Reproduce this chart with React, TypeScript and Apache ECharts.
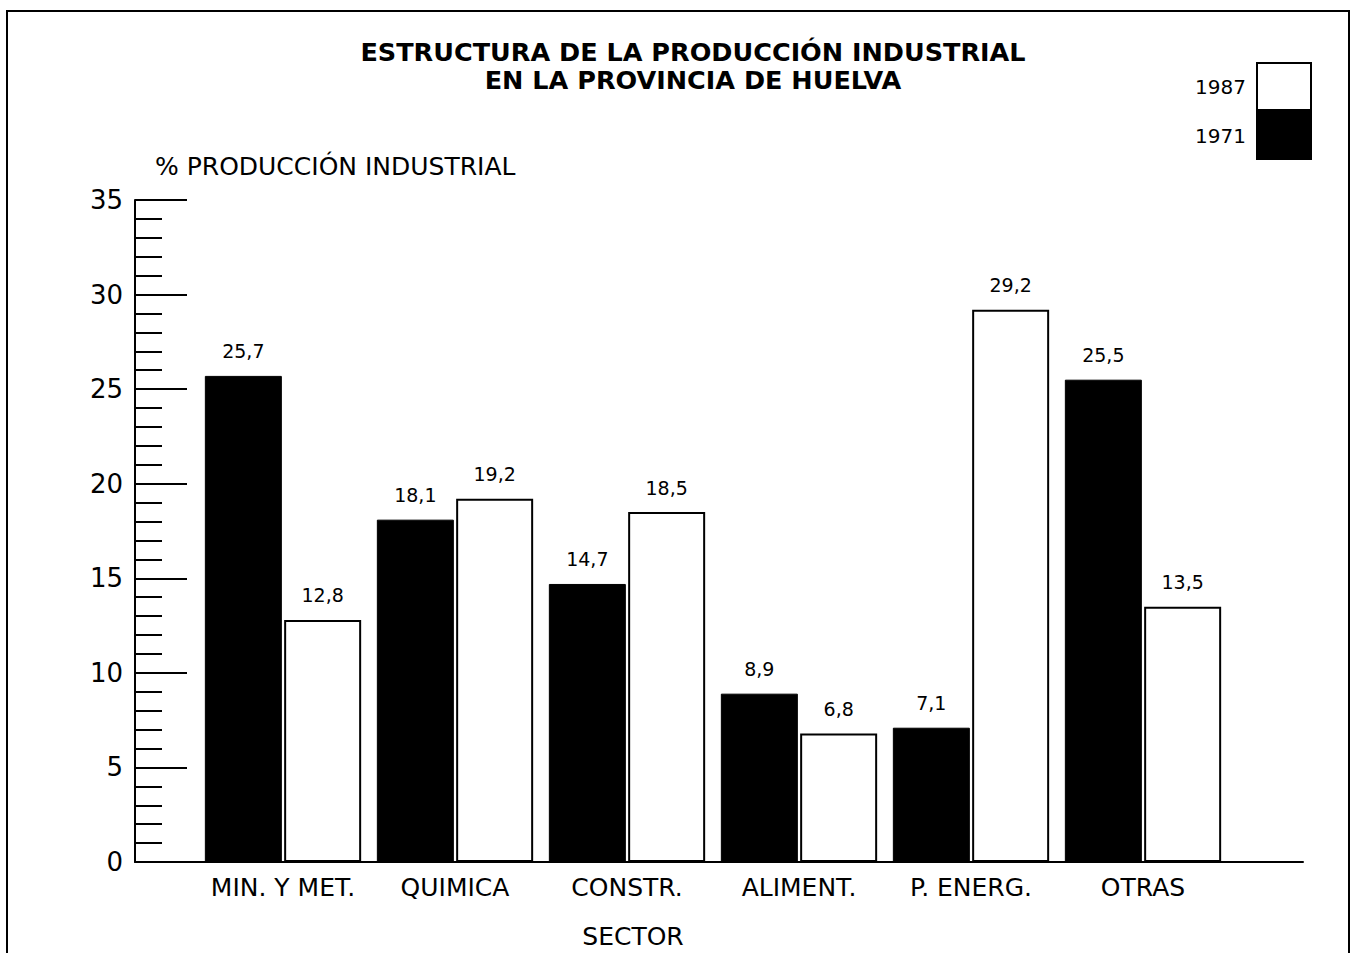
import React, { useEffect, useRef } from "react";
import * as echarts from "echarts";

const categories = ["MIN. Y MET.", "QUIMICA", "CONSTR.", "ALIMENT.", "P. ENERG.", "OTRAS"];
const values1971 = [25.7, 18.1, 14.7, 8.9, 7.1, 25.5];
const values1987 = [12.8, 19.2, 18.5, 6.8, 29.2, 13.5];
const yTicks = { min: 0, max: 35, interval: 5 };

const FONT = "'DejaVu Sans', 'Open Sans', sans-serif";
const fmt = (v: number) => String(v).replace(".", ",");

export default function App() {
  const ref = useRef<HTMLDivElement>(null);
  useEffect(() => {
    if (!ref.current) return;
    const chart = echarts.init(ref.current, undefined, { renderer: "svg" });
    const labelCfg = {
      show: true,
      position: "top" as const,
      distance: 15,
      color: "#000",
      fontSize: 19,
      fontFamily: FONT,
      formatter: (p: any) => fmt(p.value),
    };
    chart.setOption({
      animation: false,
      backgroundColor: "#fff",
      title: [
        {
          text: "ESTRUCTURA DE LA PRODUCCIÓN INDUSTRIAL\nEN LA PROVINCIA DE HUELVA",
          left: 688,
          textAlign: "center",
          top: 33,
          textStyle: { fontFamily: FONT, fontWeight: "bold", fontSize: 25.5, color: "#000", lineHeight: 28 },
        },
        {
          text: "% PRODUCCIÓN INDUSTRIAL",
          left: 150,
          top: 149,
          textStyle: { fontFamily: FONT, fontWeight: "normal", fontSize: 25, color: "#000" },
        },
        {
          text: "SECTOR",
          left: 628,
          textAlign: "center",
          top: 919,
          textStyle: { fontFamily: FONT, fontWeight: "normal", fontSize: 25, color: "#000" },
        },
      ],
      legend: {
        data: ["1987", "1971"],
        orient: "vertical",
        right: 35,
        top: 57,
        itemWidth: 54,
        itemHeight: 47,
        itemGap: 0,
        align: "right",
        icon: "rect",
        textStyle: { fontFamily: FONT, fontSize: 20, color: "#000", padding: [0, 6, 0, 0] },
      },
      grid: [
        { left: 197, right: 123, top: 200, bottom: 91, containLabel: false },
        { left: 135, right: 49, top: 200, bottom: 91, containLabel: false },
      ],
      xAxis: [
        {
          type: "category",
          gridIndex: 0,
          data: categories,
          axisLine: { show: false },
          axisTick: { show: false },
          axisLabel: { fontFamily: FONT, fontSize: 25, color: "#000", margin: 13, interval: 0 },
        },
        {
          type: "value",
          gridIndex: 1,
          min: 0,
          max: 1,
          axisLine: { show: true, lineStyle: { color: "#000", width: 2 } },
          axisTick: { show: false },
          axisLabel: { show: false },
          splitLine: { show: false },
        },
      ],
      yAxis: [
        {
          type: "value",
          gridIndex: 0,
          min: yTicks.min,
          max: yTicks.max,
          interval: yTicks.interval,
          show: false,
          splitLine: { show: false },
        },
        {
          type: "value",
          gridIndex: 1,
          min: yTicks.min,
          max: yTicks.max,
          interval: yTicks.interval,
          axisLine: { show: true, lineStyle: { color: "#000", width: 2 } },
          axisTick: { show: true, inside: true, length: 52, lineStyle: { color: "#000", width: 2 } },
          minorTick: { show: true, splitNumber: 5, length: 27, lineStyle: { color: "#000", width: 2 } },
          axisLabel: { fontFamily: FONT, fontSize: 26, color: "#000", margin: 12 },
          splitLine: { show: false },
          minorSplitLine: { show: false },
        },
      ],
      series: [
        {
          name: "1971",
          type: "bar",
          xAxisIndex: 0,
          yAxisIndex: 0,
          data: values1971,
          barWidth: 77,
          barGap: "3%",
          itemStyle: { color: "#000", borderColor: "#000", borderWidth: 1 },
          label: labelCfg,
        },
        {
          name: "1987",
          type: "bar",
          xAxisIndex: 0,
          yAxisIndex: 0,
          data: values1987,
          barWidth: 77,
          barGap: "3%",
          itemStyle: { color: "#fff", borderColor: "#000", borderWidth: 2 },
          label: labelCfg,
        },
      ],
      graphic: [
        {
          type: "rect",
          shape: { x: 7, y: 11, width: 1342, height: 1000 },
          style: { fill: "none", stroke: "#000", lineWidth: 2 },
          silent: true,
        },
      ],
    });
    return () => chart.dispose();
  }, []);
  return (
    <div
      ref={ref}
      style={{ position: "absolute", left: 0, top: 0, width: 1352, height: 953 }}
    />
  );
}
